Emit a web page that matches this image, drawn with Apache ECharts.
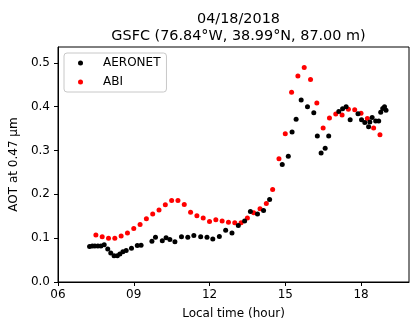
<!DOCTYPE html>
<html>
<head>
<meta charset="utf-8">
<script src="https://cdn.jsdelivr.net/npm/echarts@6/dist/echarts.min.js"></script>
<style>html,body{margin:0;padding:0;background:#fff}#c{width:410px;height:325px}</style>
</head>
<body>
<div id="c"></div>
<script>
const titleText = ['04/18/2018', 'GSFC (76.84°W, 38.99°N, 87.00 m)'];
const xTicks = [6, 9, 12, 15, 18];
const yTicks = [0, 0.1, 0.2, 0.3, 0.4, 0.5];

const aeronetHour = [7.25,7.36,7.46,7.58,7.70,7.83,7.97,8.09,8.22,8.35,8.45,8.57,8.70,8.91,9.14,9.29,9.72,9.86,10.13,10.28,10.43,10.63,10.89,11.14,11.38,11.65,11.90,12.13,12.39,12.64,12.89,13.14,13.39,13.62,13.90,14.14,14.38,14.88,15.12,15.27,15.43,15.63,15.88,16.13,16.27,16.42,16.58,16.72,17.12,17.27,17.41,17.57,17.88,18.02,18.15,18.30,18.35,18.44,18.58,18.70,18.78,18.86,18.93,18.99];
const aeronetAOT = [0.081,0.082,0.082,0.082,0.082,0.085,0.075,0.066,0.060,0.060,0.064,0.069,0.072,0.077,0.083,0.084,0.093,0.102,0.094,0.101,0.097,0.092,0.103,0.102,0.106,0.103,0.102,0.098,0.104,0.118,0.112,0.129,0.139,0.161,0.155,0.163,0.188,0.268,0.287,0.342,0.371,0.415,0.400,0.386,0.333,0.294,0.305,0.333,0.389,0.395,0.400,0.370,0.384,0.370,0.364,0.354,0.365,0.375,0.367,0.367,0.387,0.396,0.400,0.392];

const abiHour = [7.5,7.75,8.0,8.25,8.5,8.75,9.0,9.25,9.5,9.75,10.0,10.25,10.5,10.75,11.0,11.25,11.5,11.75,12.0,12.25,12.5,12.75,13.0,13.25,13.5,13.75,14.0,14.25,14.5,14.75,15.0,15.25,15.5,15.75,16.0,16.25,16.5,16.75,17.0,17.25,17.5,17.75,18.0,18.25,18.5,18.75];
const abiAOT = [0.107,0.103,0.100,0.100,0.105,0.112,0.122,0.131,0.144,0.155,0.164,0.176,0.186,0.186,0.177,0.159,0.151,0.146,0.138,0.142,0.139,0.136,0.135,0.135,0.146,0.158,0.167,0.179,0.211,0.281,0.338,0.433,0.470,0.489,0.462,0.408,0.351,0.374,0.383,0.381,0.394,0.393,0.385,0.373,0.351,0.336];

const font = 'DejaVu Sans';
const zip = (a, b) => a.map((v, i) => [v, b[i]]);

const chart = echarts.init(document.getElementById('c'), null, {renderer: 'canvas'});
chart.setOption({
  animation: false,
  backgroundColor: '#fff',
  title: {
    text: titleText.join('\n'),
    left: 233.5, top: 6, textAlign: 'center',
    textStyle: {fontFamily: font, fontSize: 14.4, fontWeight: 'normal', color: '#000', lineHeight: 17}
  },
  legend: {
    left: 64, top: 53, orient: 'vertical',
    itemWidth: 5, itemHeight: 5, itemGap: 5,
    padding: [3, 6, 3, 14],
    borderColor: '#c8c8c8', borderWidth: 1, borderRadius: 3,
    backgroundColor: '#fff',
    textStyle: {fontFamily: font, fontSize: 12, color: '#000', lineHeight: 14, padding: [0, 0, 0, 15]},
    data: [{name: 'AERONET', icon: 'circle'}, {name: 'ABI', icon: 'circle'}]
  },
  grid: {left: 58, right: 1, top: 47, bottom: 40, show: true, borderColor: '#000', borderWidth: 1},
  xAxis: {
    type: 'value', min: 6, max: 19.9, interval: 3,
    name: 'Local time (hour)', nameLocation: 'middle', nameGap: 26,
    nameTextStyle: {fontFamily: font, fontSize: 12, color: '#000'},
    axisLine: {show: true, lineStyle: {color: '#000', width: 1}},
    axisTick: {show: true, length: 4, lineStyle: {color: '#000'}, customValues: xTicks},
    axisLabel: {fontFamily: font, fontSize: 12, color: '#000', margin: 7, customValues: xTicks,
      formatter: v => String(Math.round(v)).padStart(2, '0')},
    splitLine: {show: false}
  },
  yAxis: {
    type: 'value', min: 0, max: 0.536, interval: 0.1,
    name: 'AOT at 0.47 μm', nameLocation: 'middle', nameGap: 38, nameRotate: 90,
    nameTextStyle: {fontFamily: font, fontSize: 12, color: '#000'},
    axisLine: {show: true, lineStyle: {color: '#000', width: 1}},
    axisTick: {show: true, length: 4, lineStyle: {color: '#000'}, customValues: yTicks},
    axisLabel: {fontFamily: font, fontSize: 12, color: '#000', margin: 8, customValues: yTicks,
      formatter: v => v.toFixed(1)},
    splitLine: {show: false}
  },
  series: [
    {name: 'AERONET', type: 'scatter', data: zip(aeronetHour, aeronetAOT), symbol: 'circle', symbolSize: 5,
      itemStyle: {color: '#000', opacity: 1}, z: 3},
    {name: 'ABI', type: 'scatter', data: zip(abiHour, abiAOT), symbol: 'circle', symbolSize: 5,
      itemStyle: {color: '#ff0000', opacity: 1}, z: 2}
  ]
});
</script>
</body>
</html>
